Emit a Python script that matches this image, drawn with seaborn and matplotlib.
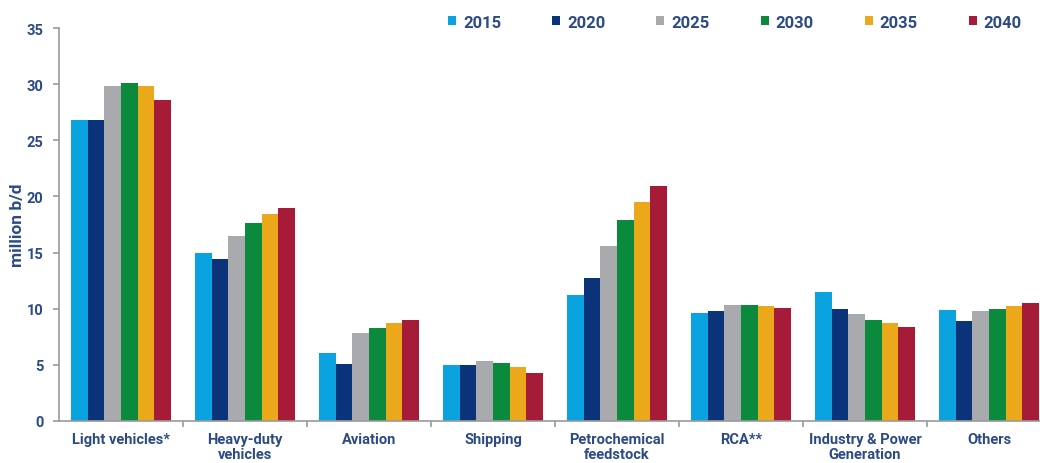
import numpy as np
import pandas as pd
import matplotlib
matplotlib.use("Agg")
import matplotlib.pyplot as plt
from matplotlib.patches import Patch
import seaborn as sns

categories = ["Light vehicles*", "Heavy-duty\nvehicles", "Aviation", "Shipping",
              "Petrochemical\nfeedstock", "RCA**", "Industry & Power\nGeneration", "Others"]
years = ["2015", "2020", "2025", "2030", "2035", "2040"]
v2015 = [26.8, 15.0, 6.1, 5.0, 11.2, 9.6, 11.5, 9.9]
v2020 = [26.8, 14.4, 5.1, 5.0, 12.7, 9.8, 10.0, 8.9]
v2025 = [29.8, 16.5, 7.8, 5.3, 15.6, 10.3, 9.5, 9.8]
v2030 = [30.1, 17.6, 8.3, 5.2, 17.9, 10.3, 9.0, 10.0]
v2035 = [29.8, 18.4, 8.7, 4.8, 19.5, 10.2, 8.7, 10.2]
v2040 = [28.6, 19.0, 9.0, 4.3, 20.9, 10.1, 8.4, 10.5]
colors = ["#0aa3df", "#0b337a", "#a9aaad", "#0b8a3e", "#eba81a", "#a61c38"]

series = [v2015, v2020, v2025, v2030, v2035, v2040]
rows = []
for y, vals in zip(years, series):
    for c, v in zip(categories, vals):
        rows.append({"category": c, "year": y, "value": v})
df = pd.DataFrame(rows)

sns.set_style("white")
plt.rcParams["font.family"] = ["Roboto", "DejaVu Sans"]
txt = "#2b4a86"

fig = plt.figure(figsize=(10.4, 4.64), dpi=100)
ax = fig.add_axes([59/1040, 42/464, (1051-59)/1040, 393/464])
sns.barplot(data=df, x="category", y="value", hue="year", order=categories,
            hue_order=years, palette=colors, width=0.8, saturation=1,
            edgecolor="none", linewidth=0, ax=ax, legend=False)

ax.set_ylim(0, 35)
ax.set_xlim(-0.5, 7.5)
ax.set_yticks(range(0, 36, 5))
ax.set_xlabel("")
ax.set_ylabel("million b/d", fontsize=12.5, fontweight="bold", color=txt)
ax.yaxis.set_label_coords((25 - 59) / 992, 0.5)
for s in ["top", "right"]:
    ax.spines[s].set_visible(False)
for s in ["left", "bottom"]:
    ax.spines[s].set_color("#9a9a9a")
    ax.spines[s].set_linewidth(1.2)
ax.set_xticks(np.arange(0.5, 7.5, 1), minor=True)
ax.tick_params(axis="x", which="major", length=0, pad=8, labelsize=10.5, labelcolor=txt)
ax.tick_params(axis="x", which="minor", length=4, color="#9a9a9a", width=1.2, direction="out")
ax.tick_params(axis="y", length=4.3, color="#9a9a9a", width=1.2, direction="out",
               labelsize=10.5, labelcolor=txt, pad=7)
ax.tick_params(axis="both", which="both", bottom=True, left=True)
for lab in ax.get_xticklabels() + ax.get_yticklabels():
    lab.set_fontweight("bold")
for lab in ax.get_xticklabels():
    lab.set_linespacing(1.05)

handles = [Patch(facecolor=c, edgecolor="none") for c in colors]
leg = fig.legend(handles, years, loc="center right", bbox_to_anchor=(1022/1040, 1 - 23/464),
                 ncol=6, frameon=False, handlelength=0.48, handleheight=0.48,
                 handletextpad=0.42, columnspacing=3.06, borderpad=0, borderaxespad=0,
                 prop={"weight": "bold", "size": 12})
for t in leg.get_texts():
    t.set_color(txt)

fig.savefig("out.png", dpi=100)
